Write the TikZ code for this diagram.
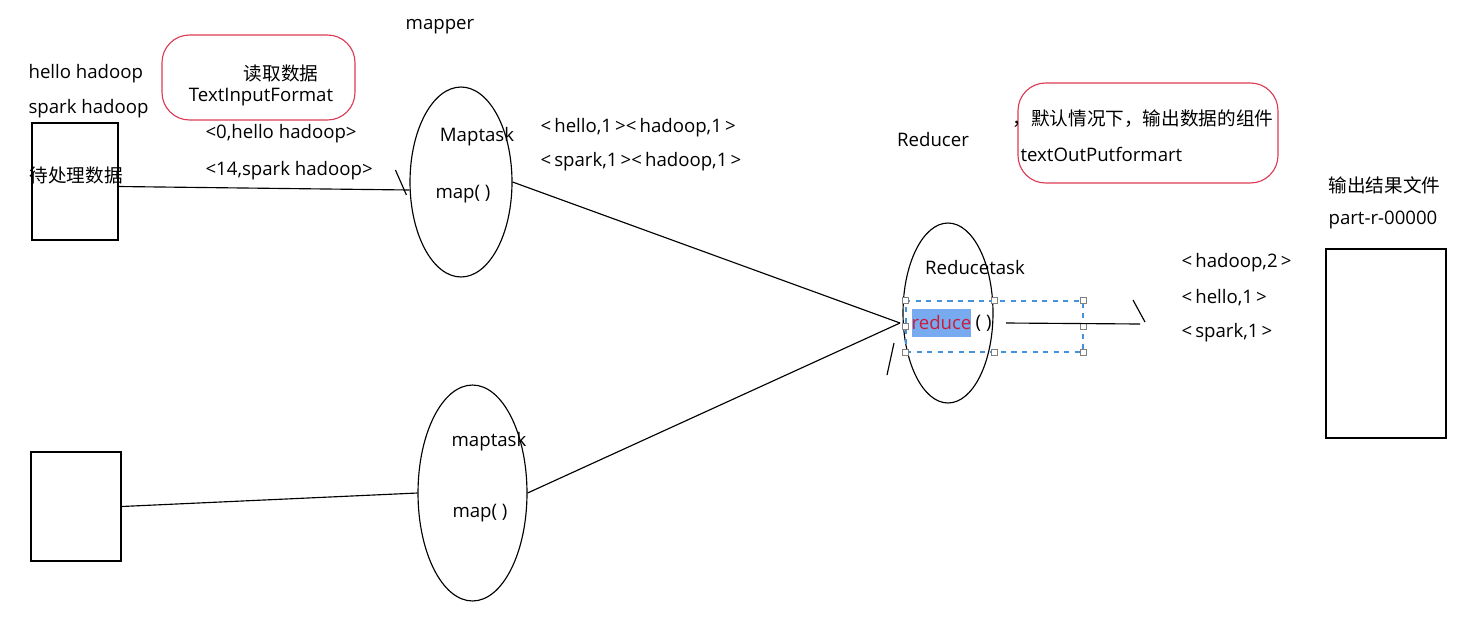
\documentclass[tikz,border=0pt]{standalone}
\usepackage{fontspec}
\setmainfont{Open Sans}
\newfontfamily\cjk{Noto Sans CJK SC}
\usetikzlibrary{shapes.geometric}
\definecolor{boxred}{RGB}{220,60,85}
\definecolor{selblue}{RGB}{70,145,220}
\definecolor{hlblue}{RGB}{120,170,240}
\definecolor{redtext}{RGB}{200,30,60}
\begin{document}
\begin{tikzpicture}[x=0.02cm, y=-0.02cm, line width=0.65pt,
    every node/.style={font=\fontsize{10.6}{12}\selectfont, inner sep=0pt},
    lbl/.style={anchor=west},
    file/.style={draw, rectangle},
    task/.style={draw, ellipse},
    note/.style={draw=boxred, rounded corners=0.55cm},
    handle/.style={draw=gray, fill=white, line width=0.4pt, minimum size=0.12cm}]
    \useasboundingbox (0,0) rectangle (1467,616);
    \node (mapper) at (440,27) {mapper};
    \node[lbl] (in1) at (28,74) {hello hadoop};
    \node[lbl] (in2) at (28,109) {spark hadoop};
    \node[file, minimum width=1.72cm, minimum height=2.34cm] (data) at (75,181.5) {};
    \node[lbl] (datatxt) at (29,175) {\cjk 待处理数据};
    \node[file, minimum width=1.8cm, minimum height=2.18cm] (data2) at (76,506.5) {};
    \node[note, minimum width=3.86cm, minimum height=1.7cm] (tif) at (258.5,77.5) {};
    \node (tif1) at (281,73) {\cjk 读取数据};
    \node (tif2) at (261,97) {TextInputFormat};
    \node[lbl] (kv1) at (205,134) {<0,hello hadoop>};
    \node[lbl] (kv2) at (205,171) {<14,spark hadoop>};
    \node[task, minimum width=2.04cm, minimum height=3.8cm] (map1) at (461,182) {};
    \node (mt1) at (477,137) {Maptask};
    \node (mf1) at (463,194) {map( )};
    \node[task, minimum width=2.18cm, minimum height=4.32cm] (map2) at (472.5,493) {};
    \node (mt2) at (489,442) {maptask};
    \node (mf2) at (480,513) {map( )};
    \node[lbl] (mo1) at (540,128) {<\,hello,1\,><\,hadoop,1\,>};
    \node[lbl] (mo2) at (540,162) {<\,spark,1\,><\,hadoop,1\,>};
    \node (reducer) at (933,140) {Reducer};
    \node[task, minimum width=1.8cm, minimum height=3.6cm] (red) at (948,313) {};
    \node (rt) at (975,268) {Reducetask};
    \node[draw=selblue, dashed, minimum width=3.54cm, minimum height=1.02cm] (sel) at (994.5,326.5) {};
    \foreach \a in {north west,north,north east,west,east,south west,south,south east}
        \node[handle] at (sel.\a) {};
    \node[lbl, fill=hlblue, text=redtext, inner ysep=4pt] (rf) at (911,323) {reduce};
    \node[lbl] (rp) at (rf.east) {\,( )};
    \node[note, minimum width=5.2cm, minimum height=2cm] (tof) at (1148,133) {};
    \node[lbl] (tof1) at (1012,119) {\cjk ，默认情况下，输出数据的组件};
    \node[lbl] (tof2) at (1020,154) {textOutPutformart};
    \node[lbl] (res1) at (1181,263) {<\,hadoop,2\,>};
    \node[lbl] (res2) at (1181,298) {<\,hello,1\,>};
    \node[lbl] (res3) at (1181,333) {<\,spark,1\,>};
    \node[lbl] (of1) at (1328,185) {\cjk 输出结果文件};
    \node[lbl] (of2) at (1328,220) {part-r-00000};
    \node[file, minimum width=2.4cm, minimum height=3.78cm] (out) at (1386,343.5) {};
    \coordinate (rin) at (900,323);
    \coordinate (oend) at (1140,324);
    \draw ([shift={(0,5)}]data.east) -- ([shift={(0,8)}]map1.west);
    \draw ([shift={(-14,-12)}]map1.west) -- ([shift={(-3,13)}]map1.west);
    \draw (data2.east) -- (map2.west);
    \draw (map1.east) -- (rin);
    \draw (map2.east) -- (rin);
    \draw ([shift={(-13,52)}]rin) -- ([shift={(-6,20)}]rin);
    \draw ([xshift=8]rp.east) -- (oend);
    \draw ([shift={(-7,-24)}]oend) -- ([shift={(5,-2)}]oend);
\end{tikzpicture}
\end{document}
